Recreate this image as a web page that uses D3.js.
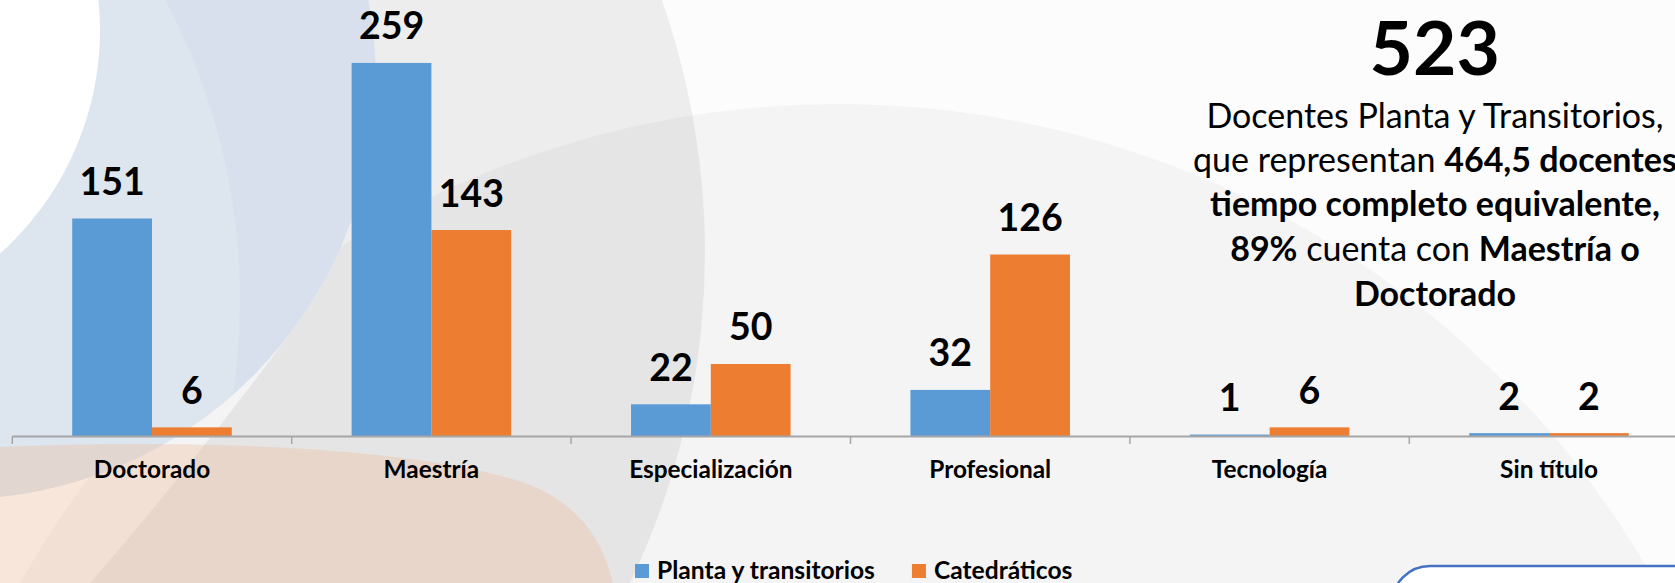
<!DOCTYPE html>
<html><head><meta charset="utf-8">
<script src="https://cdn.jsdelivr.net/npm/d3@7"></script>
<style>
html,body{margin:0;padding:0;overflow:hidden;background:#fcfcfc}
svg{display:block}
</style></head><body>
<svg id="chart" width="1675" height="583"></svg>
<script>
const categories = ["Doctorado","Maestría","Especialización","Profesional","Tecnología","Sin título"];
const seriesNames = ["Planta y transitorios","Catedráticos"];
const plantaValues = [151,259,22,32,1,2];
const catedraticosValues = [6,143,50,126,6,2];
const seriesColors = ["#5B9BD5","#ED7D31"];
const totalDocentes = "523";
const summaryLines = [
  [["Docentes Planta y Transitorios,", false]],
  [["que representan ", false], ["464,5 docentes", true]],
  [["tiempo completo equivalente,", true]],
  [["89%", true], [" cuenta con ", false], ["Maestría o", true]],
  [["Doctorado", true]]
];

const FONT = "Lato, 'Open Sans', sans-serif";
const W = 1675, H = 583;
const svg = d3.select("#chart");

// ---------- decorative background ----------
const defs = svg.append("defs");
defs.append("clipPath").attr("id","blueClip").append("circle").attr("cx",-44).attr("cy",79).attr("r",420);
const bg = svg.append("g");
bg.append("rect").attr("width",W).attr("height",H).attr("fill","#fcfcfc");
// large dome
bg.append("circle").attr("cx",838).attr("cy",1042).attr("r",938).attr("fill","rgba(0,0,0,0.032)");
// left grey crescent (big circle minus a region hugging the blue circle)
const gp = d3.path();
gp.moveTo(-58 + 763, 253); gp.arc(-58, 253, 763, 0, 2*Math.PI); gp.closePath();
const a0 = Math.asin((-10 - 79) / 420), a1 = Math.asin((330 - 79) / 420);
gp.moveTo(-10, -10);
gp.lineTo(-44 + 420*Math.cos(a0), -10);
gp.arc(-44, 79, 420, a0, a1, false);
gp.bezierCurveTo(257, 378, 180, 480, 90, 583);
gp.lineTo(90, 600); gp.lineTo(-10, 600); gp.closePath();
bg.append("path").attr("d", gp.toString()).attr("fill-rule","evenodd").attr("fill","rgba(0,0,0,0.06)");
// blue circle with lighter band
bg.append("circle").attr("cx",-44).attr("cy",79).attr("r",420).attr("fill","#d7e0ec");
bg.append("circle").attr("cx",-400).attr("cy",300).attr("r",640).attr("fill","#dde5ef").attr("clip-path","url(#blueClip)");
// white blob top-left
bg.append("circle").attr("cx",-200).attr("cy",30).attr("r",300).attr("fill","#ffffff");
// peach shape bottom-left
const pp = d3.path();
pp.moveTo(-5, 447);
pp.bezierCurveTo(200, 438, 430, 448, 530, 485);
pp.bezierCurveTo(582, 506, 606, 545, 614, 590);
pp.lineTo(-5, 590); pp.closePath();
bg.append("path").attr("d", pp.toString()).attr("fill","rgba(240,178,138,0.3)");

// ---------- scales ----------
const axisY = 436;
const x0 = d3.scaleBand().domain(categories).range([12.3, 12.3 + 6*279.4]).paddingInner(0.429).paddingOuter(0.2145);
const x1 = d3.scaleBand().domain(seriesNames).range([0, x0.bandwidth()]);
const y = d3.scaleLinear().domain([0, 300]).range([axisY, axisY - 300*1.4404]);
const color = d3.scaleOrdinal().domain(seriesNames).range(seriesColors);

const data = categories.map((c,i)=>({cat:c, vals:[
  {s:seriesNames[0], v:plantaValues[i]},
  {s:seriesNames[1], v:catedraticosValues[i]}
]}));

// bars
const groups = svg.append("g").selectAll("g").data(data).join("g")
  .attr("transform", d=>`translate(${x0(d.cat)},0)`);
groups.selectAll("rect").data(d=>d.vals).join("rect")
  .attr("x", d=>x1(d.s)).attr("width", x1.bandwidth())
  .attr("y", d=>y(d.v)).attr("height", d=>y(0)-y(d.v))
  .attr("fill", d=>color(d.s));
groups.selectAll("text").data(d=>d.vals).join("text")
  .attr("x", d=>x1(d.s)+x1.bandwidth()/2)
  .attr("y", d=>y(d.v)-23.5)
  .attr("text-anchor","middle")
  .attr("font-family",FONT).attr("font-weight","bold").attr("font-size",37.5)
  .attr("fill","#000").text(d=>d.v);

// axis
const axis = d3.axisBottom(x0).tickSize(0).tickPadding(0);
const ax = svg.append("g").attr("transform",`translate(0,${axisY})`).call(axis);
ax.select(".domain").attr("d", `M${12.3},0.5H${W+20}`).attr("stroke","#a6a6a6").attr("stroke-width",1.8);
ax.selectAll(".tick text").attr("y",42).attr("dy",0)
  .attr("font-family",FONT).attr("font-weight","bold").attr("font-size",24.4).attr("fill","#000");
const step = x0.step();
const boundaries = categories.map(c=>x0(c) - (step - x0.bandwidth())/2);
ax.selectAll(".bound").data(boundaries).join("line").attr("class","bound")
  .attr("x1",d=>d).attr("x2",d=>d).attr("y1",0).attr("y2",8)
  .attr("stroke","#a6a6a6").attr("stroke-width",1.5);

// legend
const leg = svg.append("g");
let lx = 635;
seriesNames.forEach((s,i)=>{
  leg.append("rect").attr("x",lx).attr("y",564).attr("width",14).attr("height",14).attr("fill",color(s));
  const t = leg.append("text").attr("x",lx+22).attr("y",579)
    .attr("font-family",FONT).attr("font-weight","bold").attr("font-size",24.6).attr("fill","#000").text(s);
  lx += 22 + t.node().getComputedTextLength() + 37;
});

// summary text
const cx = 1435;
svg.append("text").attr("x",1434.7).attr("y",75).attr("text-anchor","middle")
  .attr("font-family",FONT).attr("font-weight","bold").attr("font-size",75).attr("fill","#000").text(totalDocentes);
const baselines = [128,172,216,261,306];
summaryLines.forEach((parts,i)=>{
  const t = svg.append("text").attr("x",cx).attr("y",baselines[i]).attr("text-anchor","middle")
    .attr("font-family",FONT).attr("font-size",34).attr("fill","#000");
  parts.forEach(([str,b])=>t.append("tspan").attr("font-weight",b?"bold":"normal").text(str));
});

// bottom-right rounded box
svg.append("rect").attr("x",1392).attr("y",566).attr("width",400).attr("height",120).attr("rx",38)
  .attr("fill","#ffffff").attr("stroke","#4472C4").attr("stroke-width",2.5);
</script>
</body></html>
